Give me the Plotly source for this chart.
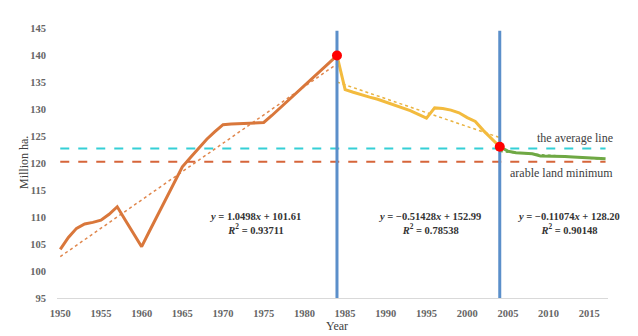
import plotly.graph_objects as go

# ---- data ----
years1 = list(range(1950, 1985))
vals1 = [104.0, 106.2, 107.9, 108.7, 109.0, 109.4, 110.5, 111.9, 109.4, 107.0,
         104.5, 107.5, 110.5, 113.6, 116.5, 119.3, 121.0, 122.7, 124.4, 125.8,
         127.1, 127.2, 127.3, 127.4, 127.4, 127.5, 128.8, 130.2, 131.6, 133.0,
         134.4, 135.8, 137.2, 138.6, 139.9]
years2 = list(range(1984, 2005))
vals2 = [139.9, 133.6, 133.1, 132.6, 132.2, 131.8, 131.3, 130.8, 130.3, 129.7,
         129.0, 128.3, 130.2, 130.1, 129.8, 129.3, 128.4, 127.7, 126.0, 124.4,
         123.0]
years3 = list(range(2004, 2018))
vals3 = [123.0, 122.2, 121.9, 121.8, 121.7, 121.3, 121.3, 121.2, 121.2, 121.1,
         121.0, 121.0, 120.9, 120.8]

# trend equations y = a*x + b, x = year - 1949
trend_a = [1.0498, -0.51428, -0.11074]
trend_b = [101.61, 152.99, 128.20]
trend_r2 = ["0.93711", "0.78538", "0.90148"]
trend_span = [(1950, 1984), (1984, 2004), (2004, 2017)]

break_years = [1984, 2004]
break_vals = [139.9, 123.0]
avg_line = 122.7
min_line = 120.25
y_ticks = list(range(95, 150, 5))
x_ticks = list(range(1950, 2020, 5))

# ---- styles ----
c_orange = "#d9773b"
c_yellow = "#f3bb3e"
c_green = "#6fa844"
c_blue = "#5b8fca"
c_cyan = "#35cfd6"
c_red_dash = "#d6653a"

fig = go.Figure()

# horizontal reference lines
fig.add_trace(go.Scatter(x=[1950, 2017], y=[avg_line, avg_line], mode="lines",
                         line=dict(color=c_cyan, width=2, dash="dash"), hoverinfo="skip"))
fig.add_trace(go.Scatter(x=[1950, 2017], y=[min_line, min_line], mode="lines",
                         line=dict(color=c_red_dash, width=2, dash="dash"), hoverinfo="skip"))

# trend lines
trend_colors = ["#e0874d", "#e9b340", c_green]
for a, b, (x0, x1), col in zip(trend_a, trend_b, trend_span, trend_colors):
    xs = [x0, x1]
    ys = [a * (x - 1949) + b for x in xs]
    fig.add_trace(go.Scatter(x=xs, y=ys, mode="lines",
                             line=dict(color=col, width=1.5, dash="dot"), hoverinfo="skip"))

# data lines
fig.add_trace(go.Scatter(x=years1, y=vals1, mode="lines", line=dict(color=c_orange, width=3)))
fig.add_trace(go.Scatter(x=years2, y=vals2, mode="lines", line=dict(color=c_yellow, width=3)))
fig.add_trace(go.Scatter(x=years3, y=vals3, mode="lines", line=dict(color=c_green, width=3)))

# vertical break lines
for by in break_years:
    fig.add_trace(go.Scatter(x=[by, by], y=[95, 144.5], mode="lines",
                             line=dict(color=c_blue, width=3), hoverinfo="skip"))

# break points
fig.add_trace(go.Scatter(x=break_years, y=break_vals, mode="markers",
                         marker=dict(color="#ff0000", size=10)))

eq_font = dict(family="Liberation Serif", size=10.5, color="#333333")
eq_pos = [1973.9, 1995.4, 2012.4]
annotations = []
for a, b, r2, xp in zip(trend_a, trend_b, trend_r2, eq_pos):
    sign = "\u2212" if a < 0 else ""
    txt = f"<b><i>y</i> = {sign}{abs(a):g}<i>x</i> + {b:.2f}<br><i>R</i><sup>2</sup> = {r2}</b>"
    annotations.append(dict(x=xp, y=108.8, xref="x", yref="y", text=txt, showarrow=False,
                            font=eq_font, align="center"))

label_font = dict(family="Liberation Serif", size=12, color="#404040")
annotations.append(dict(x=2013.2, y=124.6, xref="x", yref="y", text="the average line",
                        showarrow=False, font=label_font))
annotations.append(dict(x=2011.6, y=118.1, xref="x", yref="y", text="arable land minimum",
                        showarrow=False, font=label_font))
# axis titles
annotations.append(dict(x=1984, y=0, xref="x", yref="paper", yshift=-28, yanchor="middle",
                        text="Year", showarrow=False, font=label_font))
annotations.append(dict(x=0, y=0.5, xref="paper", yref="paper", xshift=-33, xanchor="center",
                        textangle=-90, text="Million ha.", showarrow=False, font=label_font))

tick_font = dict(family="Liberation Serif", size=10.5, color="#666666", weight="bold")

fig.update_layout(
    width=638, height=336,
    margin=dict(l=57, r=30, t=28, b=38),
    paper_bgcolor="white", plot_bgcolor="white",
    showlegend=False,
    annotations=annotations,
    xaxis=dict(range=[1949.6, 2017.3], tickvals=x_ticks, showgrid=False, zeroline=False,
               showline=True, linecolor="#d9d9d9", linewidth=1, ticks="",
               ticklabelstandoff=5, automargin=False,
               tickfont=tick_font),
    yaxis=dict(range=[95, 145], tickvals=y_ticks, showgrid=False, zeroline=False,
               showline=False, ticks="", ticklabelstandoff=10, automargin=False,
               tickfont=tick_font),
)

fig.write_html("out.html")
